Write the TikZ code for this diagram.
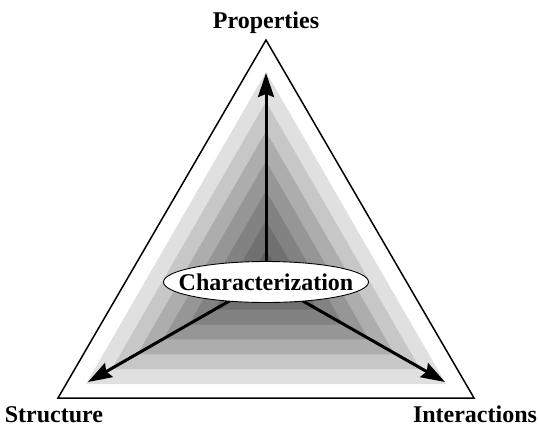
\documentclass[tikz,border=0pt]{standalone}
\usepackage{fontspec}
\setmainfont{Liberation Serif}
\usetikzlibrary{arrows.meta,shapes.geometric,calc}
\tikzset{
  lbl/.style={font=\bfseries\fontsize{24}{27}\selectfont, inner sep=0pt, anchor=base},
  axisarrow/.style={line width=3pt, -{Stealth[length=24pt,width=16pt,inset=3pt]}},
  outline/.style={line width=1.5pt, line join=miter},
}
\begin{document}
\begin{tikzpicture}[x=1pt,y=-1pt]
\useasboundingbox (0,0) rectangle (538,426);
% outer triangle
\coordinate (top) at (266,40);
\coordinate (bl) at (58,398);
\coordinate (br) at (474,398);
\draw[outline, fill=white] (top) -- (bl) -- (br) -- cycle;
% nested shaded triangles
\coordinate (C) at (266,280);
\foreach \k/\g in {7/12,6/22,5/32,4/41,3/49,2/56,1/63}{
  \fill[black!\g] ($(C)+(0,{-208*\k/7})$) -- ($(C)+({-180*\k/7},{104*\k/7})$) -- ($(C)+({180*\k/7},{104*\k/7})$) -- cycle;
}
% arrows
\coordinate (tP) at (266,73);
\coordinate (tS) at (88,382);
\coordinate (tI) at (445,382);
\draw[axisarrow] (C) -- (tP);
\draw[axisarrow] (C) -- (tS);
\draw[axisarrow] (C) -- (tI);
% center ellipse
\node[ellipse, draw, line width=0.9pt, fill=white, minimum width=205pt, minimum height=41pt, inner sep=0pt] (char) at (266,282) {};
\node[lbl] (chartext) at (266,290) {Characterization};
% labels
\node[lbl] (prop) at (266,28) {Properties};
\node[lbl] (struc) at (54,422) {Structure};
\node[lbl] (inter) at (475,422) {Interactions};
\end{tikzpicture}
\end{document}
